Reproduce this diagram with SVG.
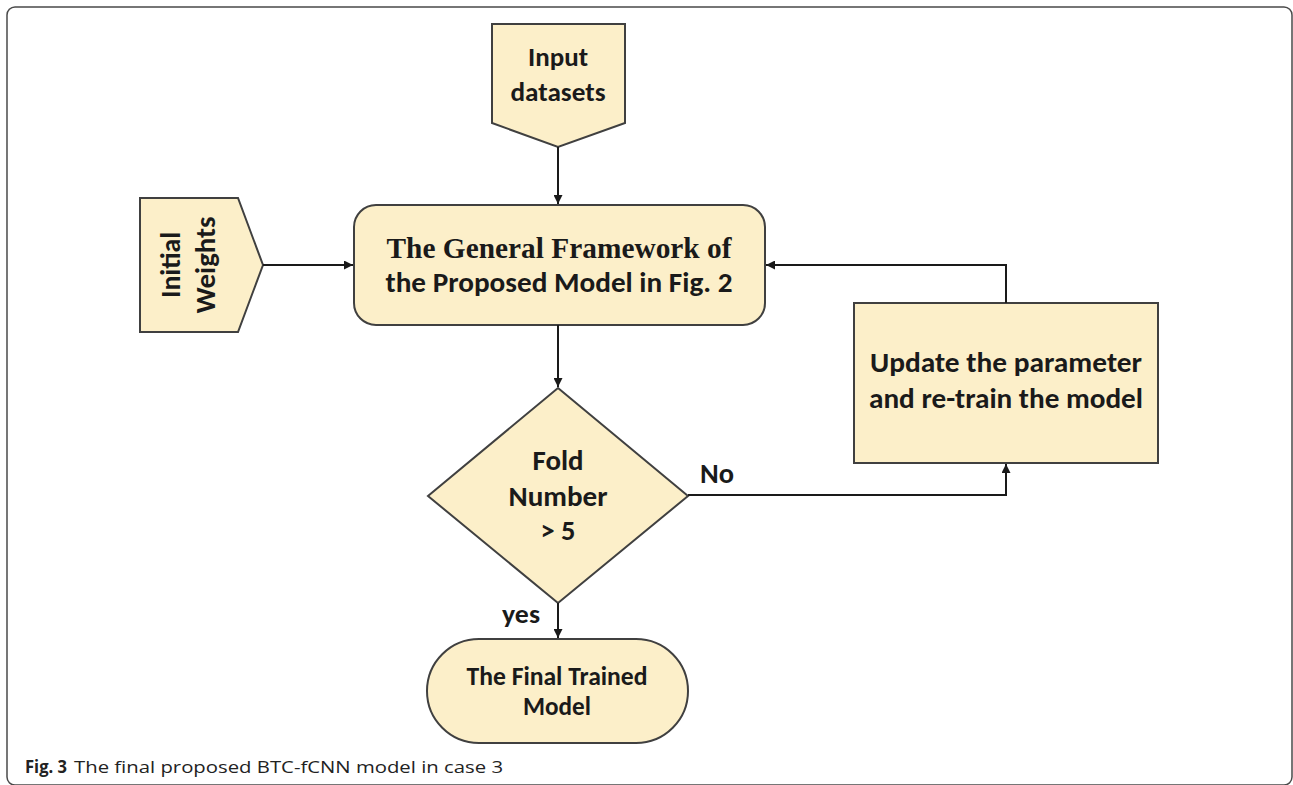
<svg xmlns="http://www.w3.org/2000/svg" width="1293" height="785" viewBox="0 0 1293 785">
  <defs>
    <marker id="arr" viewBox="0 0 10 10" refX="10" refY="5" markerWidth="4.5" markerHeight="4.5" orient="auto" markerUnits="strokeWidth">
      <path d="M0,0 L10,5 L0,10 z" fill="#1a1a1a"/>
    </marker>
    <style>
      .shape { fill: #FCEFC9; stroke: #404040; stroke-width: 2; }
      .lbl { font-family: Carlito, Lato, "Open Sans", sans-serif; font-weight: 700; fill: #1a1a1a; text-anchor: middle; }
      .serif { font-family: "Liberation Serif", "Times New Roman", serif; font-weight: 700; fill: #1a1a1a; text-anchor: middle; }
      .conn { fill: none; stroke: #1a1a1a; stroke-width: 2; marker-end: url(#arr); }
      .cap { font-family: "Open Sans", "Noto Sans", sans-serif; fill: #222; font-size: 17px; }
    </style>
  </defs>
  <rect x="0" y="0" width="1293" height="785" fill="#ffffff"/>
  <rect id="frame" x="7" y="7" width="1285" height="778" rx="8" fill="none" stroke="#4a4a4a" stroke-width="1.5"/>

  <g id="input-datasets">
    <polygon class="shape" points="492,24 625,24 625,123 558,147 492,123"/>
    <text class="lbl" x="558" y="66" font-size="27" textLength="60" lengthAdjust="spacingAndGlyphs">Input</text>
    <text class="lbl" x="558" y="101" font-size="27" textLength="95" lengthAdjust="spacingAndGlyphs">datasets</text>
  </g>

  <g id="initial-weights">
    <polygon class="shape" points="140,198 238,198 263,265 238,332 140,332"/>
    <text class="lbl" transform="translate(180,265) rotate(-90)" x="0" y="0" font-size="28" textLength="66" lengthAdjust="spacingAndGlyphs">Initial</text>
    <text class="lbl" transform="translate(215,265) rotate(-90)" x="0" y="0" font-size="28" textLength="97" lengthAdjust="spacingAndGlyphs">Weights</text>
  </g>

  <g id="framework">
    <rect class="shape" x="354" y="205" width="411" height="120" rx="22"/>
    <text class="serif" x="559" y="258" font-size="29" textLength="345" lengthAdjust="spacingAndGlyphs">The General Framework of</text>
    <text class="lbl" x="559" y="292" font-size="29" textLength="347" lengthAdjust="spacingAndGlyphs">the Proposed Model in Fig. 2</text>
  </g>

  <g id="update">
    <rect class="shape" x="854" y="303" width="304" height="160"/>
    <text class="lbl" x="1006" y="372" font-size="29" textLength="272" lengthAdjust="spacingAndGlyphs">Update the parameter</text>
    <text class="lbl" x="1006" y="408" font-size="29" textLength="274" lengthAdjust="spacingAndGlyphs">and re-train the model</text>
  </g>

  <g id="decision">
    <polygon class="shape" points="558,388 688,496 558,603 428,496"/>
    <text class="lbl" x="558" y="470" font-size="28" textLength="51" lengthAdjust="spacingAndGlyphs">Fold</text>
    <text class="lbl" x="558" y="506" font-size="28" textLength="99" lengthAdjust="spacingAndGlyphs">Number</text>
    <text class="lbl" x="558" y="540" font-size="28" textLength="35" lengthAdjust="spacingAndGlyphs">&gt; 5</text>
  </g>

  <g id="final">
    <rect class="shape" x="427" y="639" width="261" height="104" rx="52"/>
    <text class="lbl" x="557" y="685" font-size="26" textLength="181" lengthAdjust="spacingAndGlyphs">The Final Trained</text>
    <text class="lbl" x="557" y="715" font-size="26" textLength="68" lengthAdjust="spacingAndGlyphs">Model</text>
  </g>

  <g id="connectors">
    <line class="conn" x1="558" y1="147" x2="558" y2="204"/>
    <line class="conn" x1="263" y1="265" x2="353" y2="265"/>
    <polyline class="conn" points="1006,303 1006,265 766,265"/>
    <line class="conn" x1="558" y1="325" x2="558" y2="387"/>
    <polyline class="conn" points="688,495 1006,495 1006,464"/>
    <line class="conn" x1="558" y1="603" x2="558" y2="638"/>
    <text class="lbl" x="717" y="483" font-size="28" textLength="34" lengthAdjust="spacingAndGlyphs">No</text>
    <text class="lbl" x="521" y="623" font-size="27" textLength="38" lengthAdjust="spacingAndGlyphs">yes</text>
  </g>

  <g id="caption">
    <text class="cap" x="25" y="773" font-weight="700" font-size="18" textLength="42" lengthAdjust="spacingAndGlyphs">Fig. 3</text>
    <text class="cap" x="74" y="773" textLength="429" lengthAdjust="spacingAndGlyphs">The final proposed BTC-fCNN model in case 3</text>
  </g>
</svg>
